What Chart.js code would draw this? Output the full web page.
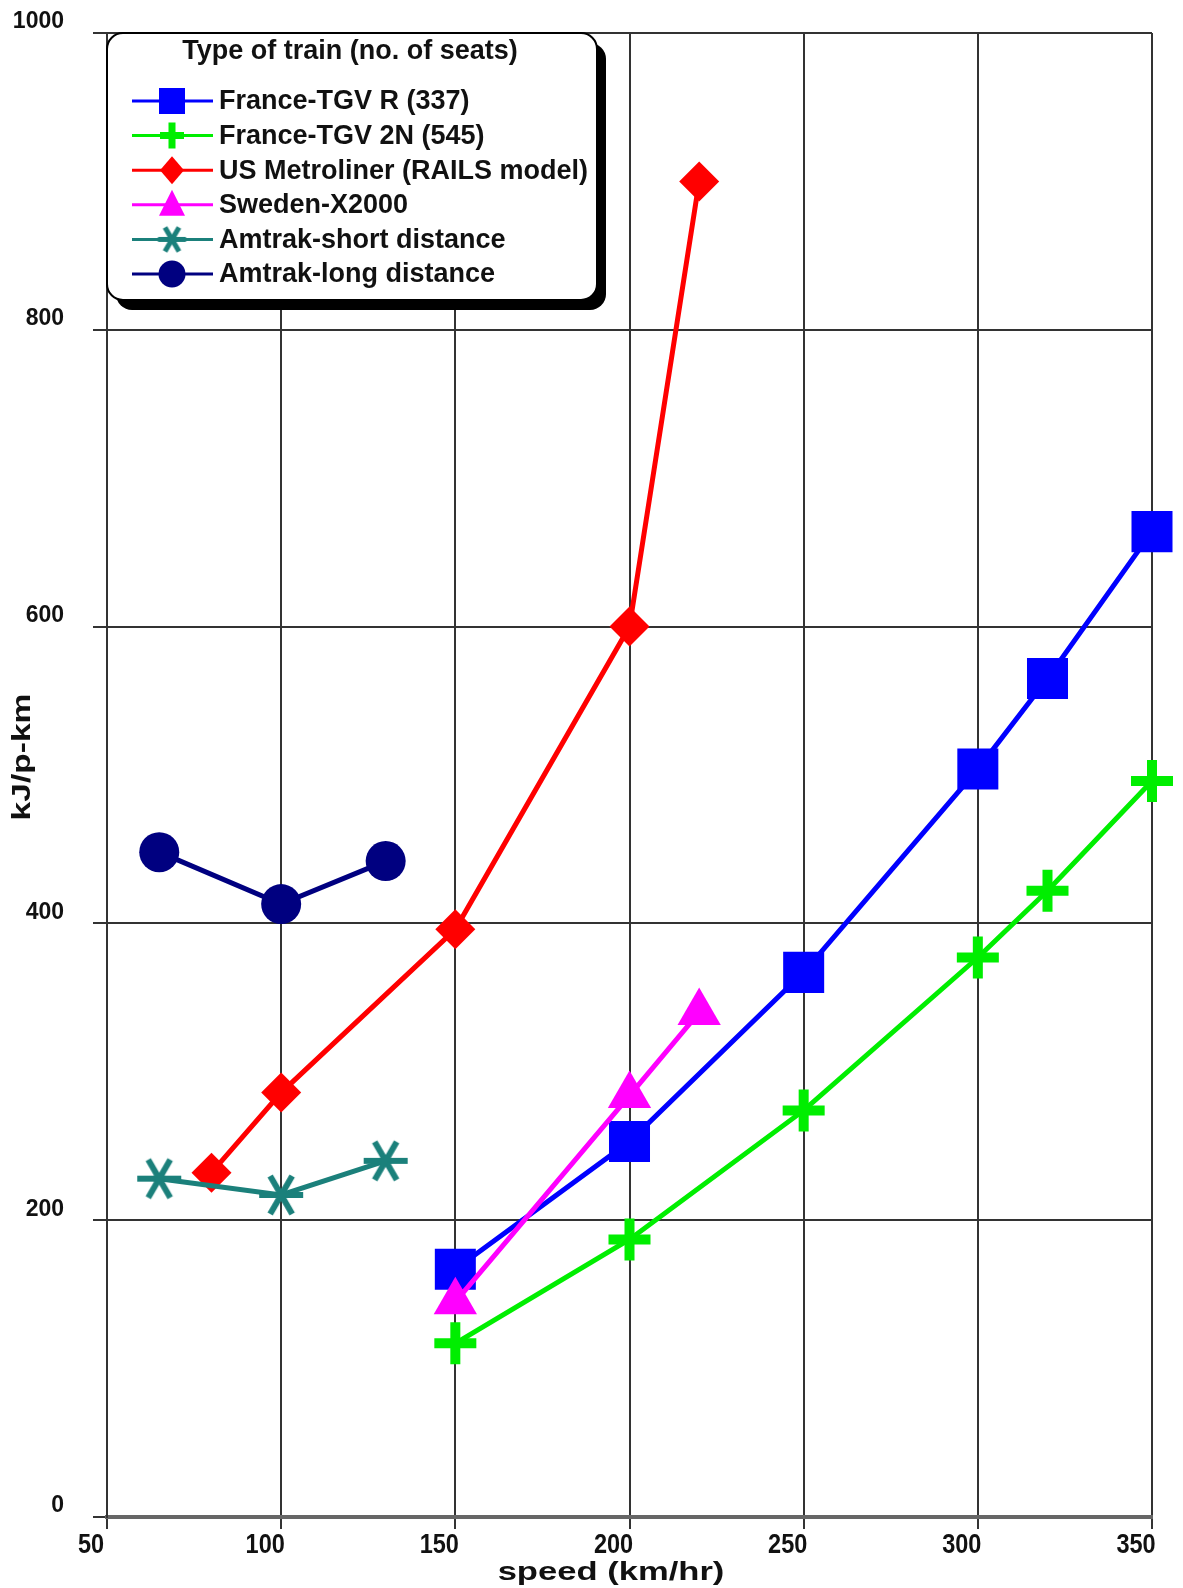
<!DOCTYPE html>
<html><head><meta charset="utf-8">
<script src="https://cdn.jsdelivr.net/npm/chart.js@4/dist/chart.umd.min.js"></script>
<style>html,body{margin:0;padding:0;background:#fff}canvas{display:block}</style>
</head><body>
<canvas id="c" width="1183" height="1588"></canvas>
<script>
// ---- data ----
const xTicks = [50, 100, 150, 200, 250, 300, 350];
const xTickLabels = ['50', '100', '150', '200', '250', '300', '350'];
const yTicks = [0, 200, 400, 600, 800, 1000];
const yTickLabels = ['0', '200', '400', '600', '800', '1000'];
const xTitle = 'speed (km/hr)';
const yTitle = 'kJ/p-km';
const legendTitle = 'Type of train (no. of seats)';
const seriesNames = ['France-TGV R (337)', 'France-TGV 2N (545)', 'US Metroliner (RAILS model)', 'Sweden-X2000', 'Amtrak-short distance', 'Amtrak-long distance'];
const tgvRSpeed = [150, 200, 250, 300, 320, 350];
const tgvREnergy = [167, 253, 367, 504, 565, 664];
const tgv2NSpeed = [150, 200, 250, 300, 320, 350];
const tgv2NEnergy = [117, 187, 274, 377, 422, 496];
const metroSpeed = [80, 100, 150, 200, 220];
const metroEnergy = [232, 286, 396, 600, 900];
const x2000Speed = [150, 200, 220];
const x2000Energy = [145, 284, 340];
const shortSpeed = [65, 100, 130];
const shortEnergy = [228, 217, 240];
const longSpeed = [65, 100, 130];
const longEnergy = [448, 413, 442];

// ---- styles ----
const COLORS = ['#0000ff', '#00ee00', '#ff0000', '#ff00ff', '#1b807b', '#000080'];
const FONT = '"Liberation Sans", Arial, sans-serif';

function makeAsterisk(half, lw, color) {
  const c = document.createElement('canvas');
  const s = Math.ceil(half * 2 + lw + 2);
  c.width = s; c.height = s;
  const g = c.getContext('2d');
  g.strokeStyle = color; g.lineWidth = lw; g.lineCap = 'butt';
  const cx = s / 2, cy = s / 2;
  for (const a of [0, Math.PI / 3, 2 * Math.PI / 3]) {
    g.beginPath();
    g.moveTo(cx - Math.cos(a) * half, cy - Math.sin(a) * half);
    g.lineTo(cx + Math.cos(a) * half, cy + Math.sin(a) * half);
    g.stroke();
  }
  return c;
}
const asteriskBig = makeAsterisk(22, 6, COLORS[4]);
const asteriskSmall = makeAsterisk(14, 5, COLORS[4]);

function pts(xs, ys) { return xs.map((x, i) => ({ x: x, y: ys[i] })); }

const datasets = [
  { label: seriesNames[0], data: pts(tgvRSpeed, tgvREnergy), borderColor: COLORS[0], backgroundColor: COLORS[0], pointBackgroundColor: COLORS[0], pointStyle: 'rect', pointRadius: 29, pointBorderWidth: 0, borderWidth: 5, order: 6 },
  { label: seriesNames[1], data: pts(tgv2NSpeed, tgv2NEnergy), borderColor: COLORS[1], backgroundColor: COLORS[1], pointBorderColor: COLORS[1], pointStyle: 'cross', pointRadius: 21, pointBorderWidth: 10, borderWidth: 5, order: 5 },
  { label: seriesNames[2], data: pts(metroSpeed, metroEnergy), borderColor: COLORS[2], backgroundColor: COLORS[2], pointBackgroundColor: COLORS[2], pointStyle: 'rectRot', pointRadius: 20, pointBorderWidth: 0, borderWidth: 5, order: 4 },
  { label: seriesNames[3], data: pts(x2000Speed, x2000Energy), borderColor: COLORS[3], backgroundColor: COLORS[3], pointBackgroundColor: COLORS[3], pointStyle: 'triangle', pointRadius: 25, pointBorderWidth: 0, borderWidth: 5, order: 3 },
  { label: seriesNames[4], data: pts(shortSpeed, shortEnergy), borderColor: COLORS[4], backgroundColor: COLORS[4], pointStyle: asteriskBig, pointRadius: 22, pointBorderWidth: 0, borderWidth: 5, order: 2 },
  { label: seriesNames[5], data: pts(longSpeed, longEnergy), borderColor: COLORS[5], backgroundColor: COLORS[5], pointBackgroundColor: COLORS[5], pointStyle: 'circle', pointRadius: 20, pointBorderWidth: 0, borderWidth: 5, order: 1 }
];
datasets.forEach(d => { d.showLine = true; d.clip = false; d.tension = 0; d.pointHoverRadius = d.pointRadius; });

// ---- legend & axis text plugin ----
function rr(ctx, x, y, w, h, r) {
  ctx.beginPath();
  ctx.moveTo(x + r, y);
  ctx.lineTo(x + w - r, y); ctx.arcTo(x + w, y, x + w, y + r, r);
  ctx.lineTo(x + w, y + h - r); ctx.arcTo(x + w, y + h, x + w - r, y + h, r);
  ctx.lineTo(x + r, y + h); ctx.arcTo(x, y + h, x, y + h - r, r);
  ctx.lineTo(x, y + r); ctx.arcTo(x, y, x + r, y, r);
  ctx.closePath();
}
function legendMarker(ctx, i, x, y) {
  const col = COLORS[i];
  ctx.fillStyle = col; ctx.strokeStyle = col;
  ctx.beginPath();
  if (i === 0) { ctx.fillRect(x - 13, y - 13, 26, 26); }
  else if (i === 1) { ctx.lineWidth = 7; ctx.moveTo(x - 12, y); ctx.lineTo(x + 12, y); ctx.moveTo(x, y - 13); ctx.lineTo(x, y + 13); ctx.stroke(); }
  else if (i === 2) { ctx.moveTo(x, y - 14); ctx.lineTo(x + 12, y); ctx.lineTo(x, y + 14); ctx.lineTo(x - 12, y); ctx.closePath(); ctx.fill(); }
  else if (i === 3) { ctx.moveTo(x, y - 15); ctx.lineTo(x + 13, y + 11); ctx.lineTo(x - 13, y + 11); ctx.closePath(); ctx.fill(); }
  else if (i === 4) { ctx.drawImage(asteriskSmall, x - asteriskSmall.width / 2, y - asteriskSmall.height / 2); }
  else { ctx.arc(x, y, 13.5, 0, Math.PI * 2); ctx.fill(); }
}
const boxLegend = {
  id: 'boxLegend',
  afterDraw(chart) {
    const ctx = chart.ctx;
    const ca = chart.chartArea;
    const xs = chart.scales.x;
    ctx.save();
    // x tick labels (condensed, offset left like the reference)
    ctx.fillStyle = '#111';
    ctx.font = 'bold 28px ' + FONT;
    ctx.textAlign = 'center'; ctx.textBaseline = 'alphabetic';
    xTicks.forEach((v, i) => {
      const px = xs.getPixelForValue(v) - 16;
      ctx.save(); ctx.translate(px, ca.bottom + 36); ctx.scale(0.84, 1);
      ctx.fillText(xTickLabels[i], 0, 0); ctx.restore();
    });
    // x title
    ctx.save(); ctx.translate(611, 1580); ctx.scale(1.33, 1);
    ctx.font = 'bold 26px ' + FONT; ctx.fillText(xTitle, 0, 0); ctx.restore();
    // y title
    ctx.save(); ctx.translate(30, 757); ctx.rotate(-Math.PI / 2); ctx.scale(1.29, 1);
    ctx.font = 'bold 26px ' + FONT; ctx.fillText(yTitle, 0, 0); ctx.restore();

    // legend box
    const x0 = ca.left, y0 = ca.top;
    const w = 490, h = 267, r = 16;
    ctx.fillStyle = '#000'; rr(ctx, x0 + 9, y0 + 10, w, h, r); ctx.fill();
    ctx.fillStyle = '#fff'; rr(ctx, x0, y0, w, h, r); ctx.fill();
    ctx.lineWidth = 2; ctx.strokeStyle = '#000'; ctx.stroke();
    ctx.fillStyle = '#111';
    ctx.font = 'bold 27px ' + FONT;
    ctx.textAlign = 'center'; ctx.textBaseline = 'middle';
    ctx.fillText(legendTitle, x0 + 243, y0 + 19);
    ctx.textAlign = 'left';
    for (let i = 0; i < seriesNames.length; i++) {
      const y = y0 + 68 + i * 34.6;
      ctx.strokeStyle = COLORS[i]; ctx.lineWidth = 3;
      ctx.beginPath(); ctx.moveTo(x0 + 25, y); ctx.lineTo(x0 + 106, y); ctx.stroke();
      legendMarker(ctx, i, x0 + 65, y);
      ctx.fillStyle = '#111';
      ctx.font = 'bold 27px ' + FONT;
      ctx.fillText(seriesNames[i], x0 + 112, y + 1);
    }
    ctx.restore();
  }
};

new Chart(document.getElementById('c'), {
  type: 'scatter',
  data: { datasets: datasets },
  plugins: [boxLegend],
  options: {
    responsive: false,
    animation: false,
    devicePixelRatio: 1,
    events: [],
    layout: { padding: { top: 33, right: 28, bottom: 0, left: 0 } },
    plugins: { legend: { display: false }, tooltip: { enabled: false } },
    scales: {
      x: {
        type: 'linear', min: 50, max: 350,
        afterBuildTicks: s => { s.ticks = xTicks.map(v => ({ value: v })); },
        afterFit: s => { s.height = 71; s.paddingLeft = 0; s.paddingRight = 0; s.paddingTop = 0; s.paddingBottom = 0; },
        grid: { color: '#333', lineWidth: 2, tickLength: 12, tickColor: '#333' },
        border: { color: '#666', width: 4 },
        ticks: { display: false },
        title: { display: false, text: xTitle }
      },
      y: {
        type: 'linear', min: 0, max: 1000,
        afterBuildTicks: s => { s.ticks = yTicks.map(v => ({ value: v })); },
        afterFit: s => { s.width = 107; s.paddingLeft = 0; s.paddingRight = 0; s.paddingTop = 0; s.paddingBottom = 0; },
        grid: { color: '#333', lineWidth: 2, tickLength: 14, tickColor: '#333' },
        border: { color: '#333', width: 2 },
        ticks: { color: '#111', padding: 29, labelOffset: -11, autoSkip: false,
          callback: (v) => yTickLabels[yTicks.indexOf(v)],
          font: { family: FONT, weight: 'bold', size: 23 } },
        title: { display: false, text: yTitle }
      }
    }
  }
});
</script>
</body></html>
